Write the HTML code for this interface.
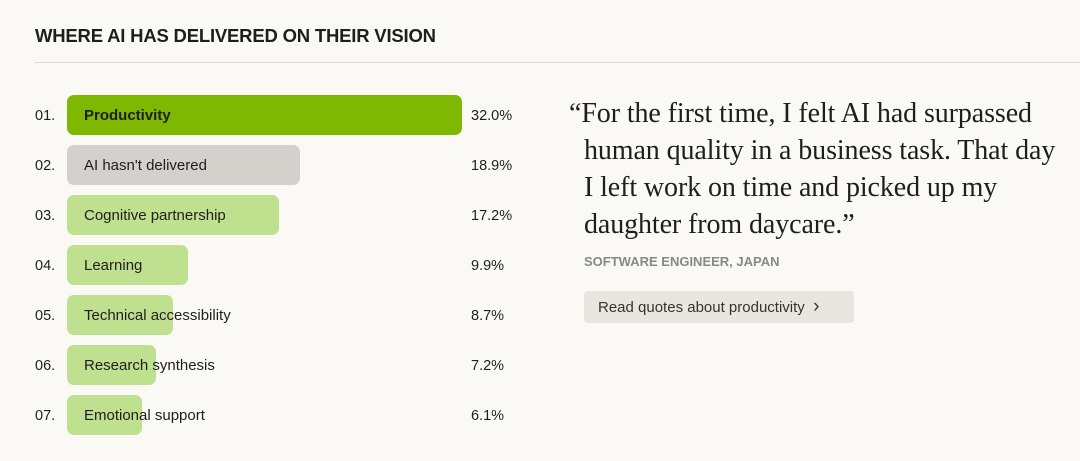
<!DOCTYPE html>
<html><head><style>
body{margin:0;width:1080px;height:461px;background:#faf9f6;font-family:"Liberation Sans",sans-serif;color:#1f1e1d;position:relative;overflow:hidden}
.t{position:absolute;left:35px;top:25px;font-weight:bold;font-size:18.5px;letter-spacing:-0.2px}
.hr{position:absolute;left:35px;right:0;top:62px;height:1px;background:#dcdad5}
.r{position:absolute;left:0;height:40px;width:540px}
.n{position:absolute;left:35px;top:13px;font-size:14.5px}
.b{position:absolute;left:67px;top:0;height:40px;border-radius:7px;background:#bfe08f}
.l{position:absolute;left:84px;top:12px;font-size:15px;white-space:nowrap}
.p{position:absolute;left:471px;top:13px;font-size:14.5px}
.q{position:absolute;left:584px;top:95px;font-family:"Liberation Serif",serif;font-size:28px;line-height:37px;width:520px;white-space:nowrap;letter-spacing:-0.1px}
.a{position:absolute;left:584px;top:254px;font-size:13px;font-weight:bold;color:#8a8884}
.btn{position:absolute;left:584px;top:291px;width:270px;height:32px;background:#e8e6df;border-radius:4px;font-size:15px;line-height:32px;padding-left:14px;box-sizing:border-box;color:#333}
</style></head><body>
<div class="t">WHERE AI HAS DELIVERED ON THEIR VISION</div>
<div class="hr"></div>
<div class="r" style="top:95px"><div class="n">01.</div><div class="b" style="width:395px;background:#7fb800"></div><div class="l" style="font-weight:bold">Productivity</div><div class="p">32.0%</div></div>
<div class="r" style="top:145px"><div class="n">02.</div><div class="b" style="width:233px;background:#d3d1cc"></div><div class="l">AI hasn't delivered</div><div class="p">18.9%</div></div>
<div class="r" style="top:195px"><div class="n">03.</div><div class="b" style="width:212px"></div><div class="l">Cognitive partnership</div><div class="p">17.2%</div></div>
<div class="r" style="top:245px"><div class="n">04.</div><div class="b" style="width:121px"></div><div class="l">Learning</div><div class="p">9.9%</div></div>
<div class="r" style="top:295px"><div class="n">05.</div><div class="b" style="width:106px"></div><div class="l">Technical accessibility</div><div class="p">8.7%</div></div>
<div class="r" style="top:345px"><div class="n">06.</div><div class="b" style="width:89px"></div><div class="l">Research synthesis</div><div class="p">7.2%</div></div>
<div class="r" style="top:395px"><div class="n">07.</div><div class="b" style="width:75px"></div><div class="l">Emotional support</div><div class="p">6.1%</div></div>
<div class="q"><span style="margin-left:-15px">“</span>For the first time, I felt AI had surpassed<br>human quality in a business task. That day<br>I left work on time and picked up my<br>daughter from daycare.”</div>
<div class="a">SOFTWARE ENGINEER, JAPAN</div>
<div class="btn">Read quotes about productivity &nbsp;<span style="font-size:19px">›</span></div>
</body></html>
